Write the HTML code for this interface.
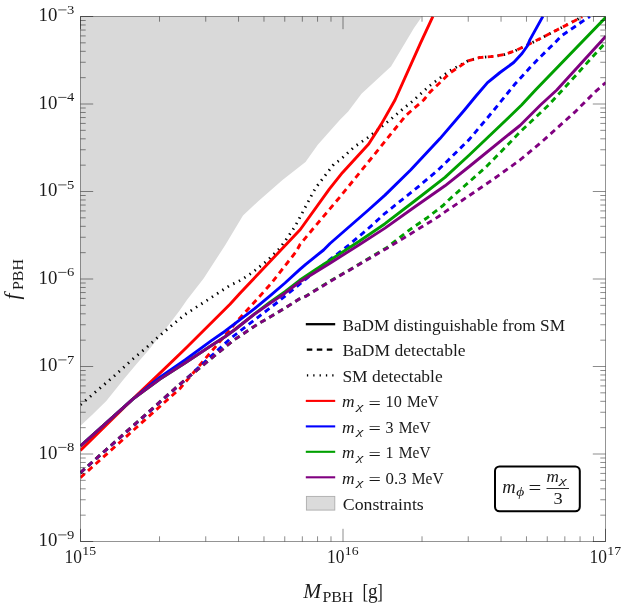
<!DOCTYPE html>
<html><head><meta charset="utf-8"><title>plot</title>
<style>
html,body{margin:0;padding:0;background:#fff;}
svg{display:block;will-change:transform;}
text{font-family:"Liberation Serif",serif;fill:#1a1a1a;}
.it{font-style:italic;}
</style></head><body>
<svg width="623" height="609" viewBox="0 0 623 609">
<rect x="0" y="0" width="623" height="609" fill="#ffffff"/>
<defs><clipPath id="cp"><rect x="80.5" y="16.5" width="525" height="525"/></clipPath></defs>
<path d="M80.5,16.5 L422.0,16.4 L414.0,28.0 L391.0,66.6 L361.5,93.7 L348.2,111.5 L340.0,119.7 L330.9,130.0 L317.8,144.8 L305.5,162.0 L282.5,180.0 L258.8,200.7 L243.0,215.5 L225.3,245.0 L203.6,278.5 L186.9,300.0 L179.3,311.0 L167.4,326.5 L154.6,342.5 L150.0,348.6 L136.3,364.3 L123.1,380.0 L106.3,401.0 L92.0,415.0 L80.5,425.8 Z" fill="#d9d9d9"/>
<g clip-path="url(#cp)" fill="none" stroke-linejoin="round">
<path d="M80.5,404.8 L113.6,376.5 L132.0,359.7 L146.5,347.6 L160.0,335.3 L185.0,314.5 L206.0,301.0 L230.0,285.3 L237.4,282.0 L242.3,279.2 L247.2,276.0 L252.2,272.7 L257.0,268.9 L262.0,264.8 L267.8,260.2 L272.7,255.3 L277.6,250.8 L284.3,242.2 L295.0,226.6 L315.3,188.3 L334.2,163.7 L340.0,160.0 L353.9,147.2 L368.7,137.0 L389.3,120.5 L402.5,109.3 L413.0,100.8 L430.0,85.5 L449.7,70.8 L467.8,60.9 L479.3,57.6 L495.0,56.2 L503.9,54.6 L515.0,50.8 L526.5,45.5 L555.0,31.0 L582.3,16.8" stroke="#000" stroke-width="2.8" stroke-dasharray="1.4,4.9"/>
<path d="M80.4,450.5 L132.5,399.3 L160.0,373.1 L185.0,349.0 L230.0,304.2 L240.0,293.3 L280.9,250.0 L300.3,229.5 L329.3,189.1 L342.4,172.7 L368.7,144.0 L381.0,124.6 L395.0,100.0 L420.6,42.8 L432.9,16.4" stroke="#ff0000" stroke-width="2.9"/>
<path d="M80.4,477.6 L180.0,388.5 L237.8,320.4 L257.5,298.7 L270.8,283.9 L296.6,251.0 L300.0,244.5 L312.0,230.0 L340.0,196.9 L372.8,156.5 L405.7,115.6 L423.7,100.0 L430.0,92.1 L449.7,73.2 L467.8,60.9 L479.3,57.6 L495.0,56.2 L503.9,54.6 L515.0,50.8 L526.5,45.5 L555.0,31.0 L582.3,16.8" stroke="#ff0000" stroke-width="2.9" stroke-dasharray="5.8,4.4"/>
<path d="M80.4,446.0 L132.5,399.3 L160.0,377.2 L185.0,360.0 L211.4,340.7 L225.0,331.2 L254.6,308.6 L270.0,295.8 L285.0,283.0 L299.6,269.6 L305.7,264.3 L323.6,250.0 L330.0,243.5 L368.4,210.0 L385.0,195.1 L410.6,170.0 L440.0,138.6 L464.5,110.0 L476.0,96.0 L487.5,82.6 L500.0,72.5 L513.7,62.5 L522.0,53.5 L527.3,46.0 L530.0,39.6 L542.9,16.4" stroke="#0000ff" stroke-width="2.9"/>
<path d="M80.4,472.8 L180.0,384.5 L230.9,338.1 L254.6,319.9 L278.2,301.7 L302.2,282.0 L330.0,259.5 L347.7,246.0 L370.4,226.7 L385.0,213.3 L416.5,188.2 L438.2,170.0 L469.3,139.4 L494.0,110.0 L515.0,84.0 L530.0,67.6 L538.0,59.2 L555.0,42.6 L561.0,36.2 L587.2,18.1 L590.0,16.4" stroke="#0000ff" stroke-width="2.9" stroke-dasharray="5.8,4.4"/>
<path d="M80.4,446.0 L132.5,399.3 L160.0,379.1 L185.0,363.0 L211.4,345.5 L225.0,336.7 L235.0,329.5 L254.6,313.8 L270.0,302.2 L285.0,291.6 L299.6,280.3 L315.0,270.0 L330.0,260.2 L359.6,241.0 L385.0,223.7 L414.6,201.0 L445.0,177.4 L469.3,155.0 L510.0,116.3 L521.6,105.0 L535.5,90.0 L605.8,17.3" stroke="#00a000" stroke-width="2.9"/>
<path d="M80.4,472.6 L180.0,384.0 L233.9,340.0 L257.5,324.3 L284.1,308.6 L299.6,298.8 L305.7,296.2 L322.1,286.0 L330.0,281.0 L352.7,268.0 L369.4,258.0 L387.1,247.4 L410.6,229.1 L426.4,218.3 L443.1,205.5 L448.7,200.0 L485.7,167.3 L510.0,142.5 L520.0,132.0 L548.7,105.0 L562.5,90.0 L605.8,42.3" stroke="#00a000" stroke-width="2.9" stroke-dasharray="5.8,4.4"/>
<path d="M80.4,446.0 L132.5,399.3 L160.0,379.1 L185.0,363.0 L211.4,345.5 L225.0,336.7 L235.0,329.5 L254.6,314.0 L270.0,303.2 L285.0,293.2 L299.6,282.0 L315.0,272.5 L330.0,263.2 L359.6,244.5 L385.0,228.1 L414.6,207.0 L445.0,185.8 L469.3,166.5 L510.0,133.5 L520.0,125.5 L540.5,105.0 L556.8,90.0 L605.8,36.2" stroke="#800080" stroke-width="2.9"/>
<path d="M80.4,472.6 L180.0,384.0 L233.9,340.0 L257.5,324.3 L284.1,308.6 L299.6,298.8 L305.7,296.4 L322.1,286.5 L330.0,281.5 L352.7,268.3 L369.4,258.5 L387.1,248.2 L421.5,227.1 L438.2,216.8 L445.0,211.9 L462.7,200.0 L493.9,178.8 L510.0,167.2 L520.0,160.0 L542.8,140.9 L575.7,111.3 L595.4,91.6 L605.8,82.5" stroke="#800080" stroke-width="2.9" stroke-dasharray="5.8,4.4"/>
</g>
<path d="M80.5,541.5 v-12.7 M80.5,16.5 v12.7 M343,541.5 v-12.7 M343,16.5 v12.7 M605.5,541.5 v-12.7 M605.5,16.5 v12.7 M80.5,16.5 h12.7 M605.5,16.5 h-12.7 M80.5,104 h12.7 M605.5,104 h-12.7 M80.5,191.5 h12.7 M605.5,191.5 h-12.7 M80.5,279 h12.7 M605.5,279 h-12.7 M80.5,366.5 h12.7 M605.5,366.5 h-12.7 M80.5,454 h12.7 M605.5,454 h-12.7 M80.5,541.5 h12.7 M605.5,541.5 h-12.7" stroke="#000" stroke-opacity="0.5" stroke-width="0.9" fill="none"/>
<path d="M159.52,541.5 v-5.2 M159.52,16.5 v5.2 M205.74,541.5 v-5.2 M205.74,16.5 v5.2 M238.54,541.5 v-5.2 M238.54,16.5 v5.2 M263.98,541.5 v-5.2 M263.98,16.5 v5.2 M284.76,541.5 v-5.2 M284.76,16.5 v5.2 M302.34,541.5 v-5.2 M302.34,16.5 v5.2 M317.56,541.5 v-5.2 M317.56,16.5 v5.2 M330.99,541.5 v-5.2 M330.99,16.5 v5.2 M422.02,541.5 v-5.2 M422.02,16.5 v5.2 M468.24,541.5 v-5.2 M468.24,16.5 v5.2 M501.04,541.5 v-5.2 M501.04,16.5 v5.2 M526.48,541.5 v-5.2 M526.48,16.5 v5.2 M547.26,541.5 v-5.2 M547.26,16.5 v5.2 M564.84,541.5 v-5.2 M564.84,16.5 v5.2 M580.06,541.5 v-5.2 M580.06,16.5 v5.2 M593.49,541.5 v-5.2 M593.49,16.5 v5.2 M80.5,77.66 h5.2 M605.5,77.66 h-5.2 M80.5,62.25 h5.2 M605.5,62.25 h-5.2 M80.5,51.32 h5.2 M605.5,51.32 h-5.2 M80.5,42.84 h5.2 M605.5,42.84 h-5.2 M80.5,35.91 h5.2 M605.5,35.91 h-5.2 M80.5,30.05 h5.2 M605.5,30.05 h-5.2 M80.5,24.98 h5.2 M605.5,24.98 h-5.2 M80.5,20.5 h5.2 M605.5,20.5 h-5.2 M80.5,165.16 h5.2 M605.5,165.16 h-5.2 M80.5,149.75 h5.2 M605.5,149.75 h-5.2 M80.5,138.82 h5.2 M605.5,138.82 h-5.2 M80.5,130.34 h5.2 M605.5,130.34 h-5.2 M80.5,123.41 h5.2 M605.5,123.41 h-5.2 M80.5,117.55 h5.2 M605.5,117.55 h-5.2 M80.5,112.48 h5.2 M605.5,112.48 h-5.2 M80.5,108 h5.2 M605.5,108 h-5.2 M80.5,252.66 h5.2 M605.5,252.66 h-5.2 M80.5,237.25 h5.2 M605.5,237.25 h-5.2 M80.5,226.32 h5.2 M605.5,226.32 h-5.2 M80.5,217.84 h5.2 M605.5,217.84 h-5.2 M80.5,210.91 h5.2 M605.5,210.91 h-5.2 M80.5,205.05 h5.2 M605.5,205.05 h-5.2 M80.5,199.98 h5.2 M605.5,199.98 h-5.2 M80.5,195.5 h5.2 M605.5,195.5 h-5.2 M80.5,340.16 h5.2 M605.5,340.16 h-5.2 M80.5,324.75 h5.2 M605.5,324.75 h-5.2 M80.5,313.82 h5.2 M605.5,313.82 h-5.2 M80.5,305.34 h5.2 M605.5,305.34 h-5.2 M80.5,298.41 h5.2 M605.5,298.41 h-5.2 M80.5,292.55 h5.2 M605.5,292.55 h-5.2 M80.5,287.48 h5.2 M605.5,287.48 h-5.2 M80.5,283 h5.2 M605.5,283 h-5.2 M80.5,427.66 h5.2 M605.5,427.66 h-5.2 M80.5,412.25 h5.2 M605.5,412.25 h-5.2 M80.5,401.32 h5.2 M605.5,401.32 h-5.2 M80.5,392.84 h5.2 M605.5,392.84 h-5.2 M80.5,385.91 h5.2 M605.5,385.91 h-5.2 M80.5,380.05 h5.2 M605.5,380.05 h-5.2 M80.5,374.98 h5.2 M605.5,374.98 h-5.2 M80.5,370.5 h5.2 M605.5,370.5 h-5.2 M80.5,515.16 h5.2 M605.5,515.16 h-5.2 M80.5,499.75 h5.2 M605.5,499.75 h-5.2 M80.5,488.82 h5.2 M605.5,488.82 h-5.2 M80.5,480.34 h5.2 M605.5,480.34 h-5.2 M80.5,473.41 h5.2 M605.5,473.41 h-5.2 M80.5,467.55 h5.2 M605.5,467.55 h-5.2 M80.5,462.48 h5.2 M605.5,462.48 h-5.2 M80.5,458 h5.2 M605.5,458 h-5.2" stroke="#000" stroke-opacity="0.5" stroke-width="0.9" fill="none"/>
<rect x="80.5" y="16.5" width="525" height="525" fill="none" stroke="#000" stroke-opacity="0.42" stroke-width="1"/>
<text x="38.6" y="21.2" font-size="18.6" textLength="18.8" lengthAdjust="spacingAndGlyphs">10</text>
<path d="M58.2,9.9 H66.5" stroke="#1a1a1a" stroke-width="0.75"/>
<text x="67" y="13.8" font-size="12.6" textLength="7.3" lengthAdjust="spacingAndGlyphs">3</text>
<text x="38.6" y="108.7" font-size="18.6" textLength="18.8" lengthAdjust="spacingAndGlyphs">10</text>
<path d="M58.2,97.4 H66.5" stroke="#1a1a1a" stroke-width="0.75"/>
<text x="67" y="101.3" font-size="12.6" textLength="7.3" lengthAdjust="spacingAndGlyphs">4</text>
<text x="38.6" y="196.2" font-size="18.6" textLength="18.8" lengthAdjust="spacingAndGlyphs">10</text>
<path d="M58.2,184.9 H66.5" stroke="#1a1a1a" stroke-width="0.75"/>
<text x="67" y="188.8" font-size="12.6" textLength="7.3" lengthAdjust="spacingAndGlyphs">5</text>
<text x="38.6" y="283.7" font-size="18.6" textLength="18.8" lengthAdjust="spacingAndGlyphs">10</text>
<path d="M58.2,272.4 H66.5" stroke="#1a1a1a" stroke-width="0.75"/>
<text x="67" y="276.3" font-size="12.6" textLength="7.3" lengthAdjust="spacingAndGlyphs">6</text>
<text x="38.6" y="371.2" font-size="18.6" textLength="18.8" lengthAdjust="spacingAndGlyphs">10</text>
<path d="M58.2,359.9 H66.5" stroke="#1a1a1a" stroke-width="0.75"/>
<text x="67" y="363.8" font-size="12.6" textLength="7.3" lengthAdjust="spacingAndGlyphs">7</text>
<text x="38.6" y="458.7" font-size="18.6" textLength="18.8" lengthAdjust="spacingAndGlyphs">10</text>
<path d="M58.2,447.4 H66.5" stroke="#1a1a1a" stroke-width="0.75"/>
<text x="67" y="451.3" font-size="12.6" textLength="7.3" lengthAdjust="spacingAndGlyphs">8</text>
<text x="38.6" y="546.2" font-size="18.6" textLength="18.8" lengthAdjust="spacingAndGlyphs">10</text>
<path d="M58.2,534.9 H66.5" stroke="#1a1a1a" stroke-width="0.75"/>
<text x="67" y="538.8" font-size="12.6" textLength="7.3" lengthAdjust="spacingAndGlyphs">9</text>
<text x="64.6" y="562.6" font-size="18.6" textLength="17.4" lengthAdjust="spacingAndGlyphs">10</text>
<text x="82.3" y="555.1" font-size="12.6" textLength="13.8" lengthAdjust="spacingAndGlyphs">15</text>
<text x="327.1" y="562.6" font-size="18.6" textLength="17.4" lengthAdjust="spacingAndGlyphs">10</text>
<text x="344.8" y="555.1" font-size="12.6" textLength="13.8" lengthAdjust="spacingAndGlyphs">16</text>
<text x="589.6" y="562.6" font-size="18.6" textLength="17.4" lengthAdjust="spacingAndGlyphs">10</text>
<text x="607.3" y="555.1" font-size="12.6" textLength="13.8" lengthAdjust="spacingAndGlyphs">17</text>
<text x="303.2" y="598.4" font-size="21.5" class="it">M</text>
<text x="322.4" y="601.7" font-size="14.2" textLength="31" lengthAdjust="spacingAndGlyphs">PBH</text>
<text x="362.6" y="598.4" font-size="21" textLength="5.6" lengthAdjust="spacingAndGlyphs">[</text>
<text x="368" y="598.4" font-size="21" textLength="9.6" lengthAdjust="spacingAndGlyphs">g</text>
<text x="377.2" y="598.4" font-size="21" textLength="5.6" lengthAdjust="spacingAndGlyphs">]</text>
<g transform="translate(19,299.6) rotate(-90)">
<text x="0" y="0" font-size="21.5" class="it">f</text>
<text x="9.6" y="3.7" font-size="14.2" textLength="31" lengthAdjust="spacingAndGlyphs">PBH</text>
</g>
<path d="M305.8,324.2 H335.2" stroke="#000" stroke-width="2.3"/>
<path d="M306.8,349.7 H335.2" stroke="#000" stroke-width="2.3" stroke-dasharray="5.5,4.5"/>
<path d="M306.9,375.40000000000003 H335.2" stroke="#000" stroke-width="2.3" stroke-dasharray="1.3,5.03"/>
<path d="M305.8,400.9 H335.2" stroke="#ff0000" stroke-width="2.1"/>
<path d="M305.8,426.4 H335.2" stroke="#0000ff" stroke-width="2.1"/>
<path d="M305.8,451.8 H335.2" stroke="#00a000" stroke-width="2.1"/>
<path d="M305.8,477.3 H335.2" stroke="#800080" stroke-width="2.1"/>
<rect x="306.4" y="496.4" width="28.4" height="13.7" fill="#dbdbdb" stroke="#adadad" stroke-width="0.9"/>
<text x="342.4" y="330.5" font-size="17" textLength="222.6" lengthAdjust="spacingAndGlyphs">BaDM distinguishable from SM</text>
<text x="342.4" y="356" font-size="17" textLength="123.2" lengthAdjust="spacingAndGlyphs">BaDM detectable</text>
<text x="342.4" y="381.6" font-size="17" textLength="100.3" lengthAdjust="spacingAndGlyphs">SM detectable</text>
<text x="342" y="407.2" font-size="17.6" textLength="12.6" lengthAdjust="spacingAndGlyphs" class="it">m</text>
<text x="356.6" y="409.8" font-size="11.2" textLength="6.8" lengthAdjust="spacingAndGlyphs" class="it">χ</text>
<text x="368.6" y="408.6" font-size="17.6" textLength="12.4" lengthAdjust="spacingAndGlyphs">=</text>
<text x="385.6" y="407.2" font-size="17" textLength="16.2" lengthAdjust="spacingAndGlyphs">10</text>
<text x="407" y="407.2" font-size="17" textLength="31.8" lengthAdjust="spacingAndGlyphs">MeV</text>
<text x="342" y="432.7" font-size="17.6" textLength="12.6" lengthAdjust="spacingAndGlyphs" class="it">m</text>
<text x="356.6" y="435.3" font-size="11.2" textLength="6.8" lengthAdjust="spacingAndGlyphs" class="it">χ</text>
<text x="368.6" y="434.1" font-size="17.6" textLength="12.4" lengthAdjust="spacingAndGlyphs">=</text>
<text x="385.6" y="432.7" font-size="17" textLength="8" lengthAdjust="spacingAndGlyphs">3</text>
<text x="398.8" y="432.7" font-size="17" textLength="31.8" lengthAdjust="spacingAndGlyphs">MeV</text>
<text x="342" y="458.1" font-size="17.6" textLength="12.6" lengthAdjust="spacingAndGlyphs" class="it">m</text>
<text x="356.6" y="460.7" font-size="11.2" textLength="6.8" lengthAdjust="spacingAndGlyphs" class="it">χ</text>
<text x="368.6" y="459.5" font-size="17.6" textLength="12.4" lengthAdjust="spacingAndGlyphs">=</text>
<text x="385.6" y="458.1" font-size="17" textLength="8" lengthAdjust="spacingAndGlyphs">1</text>
<text x="398.8" y="458.1" font-size="17" textLength="31.8" lengthAdjust="spacingAndGlyphs">MeV</text>
<text x="342" y="483.6" font-size="17.6" textLength="12.6" lengthAdjust="spacingAndGlyphs" class="it">m</text>
<text x="356.6" y="486.2" font-size="11.2" textLength="6.8" lengthAdjust="spacingAndGlyphs" class="it">χ</text>
<text x="368.6" y="485" font-size="17.6" textLength="12.4" lengthAdjust="spacingAndGlyphs">=</text>
<text x="385.6" y="483.6" font-size="17" textLength="21" lengthAdjust="spacingAndGlyphs">0.3</text>
<text x="411.8" y="483.6" font-size="17" textLength="31.8" lengthAdjust="spacingAndGlyphs">MeV</text>
<text x="342.8" y="509.5" font-size="17" textLength="81" lengthAdjust="spacingAndGlyphs">Constraints</text>
<rect x="495" y="466.4" width="84.8" height="44.9" rx="4.5" ry="4.5" fill="#fff" stroke="#000" stroke-width="2"/>
<text x="502.2" y="492.8" font-size="18.6" textLength="13.4" lengthAdjust="spacingAndGlyphs" class="it">m</text>
<text x="516.2" y="496.2" font-size="13" textLength="8" lengthAdjust="spacingAndGlyphs" class="it">ϕ</text>
<text x="528.6" y="494.4" font-size="18.6" textLength="12.8" lengthAdjust="spacingAndGlyphs">=</text>
<text x="546.6" y="481.8" font-size="17.4" textLength="12.4" lengthAdjust="spacingAndGlyphs" class="it">m</text>
<text x="559.6" y="484.2" font-size="11.2" textLength="7.2" lengthAdjust="spacingAndGlyphs" class="it">χ</text>
<path d="M546.5,488.5 H569" stroke="#1a1a1a" stroke-width="0.9"/>
<text x="553.6" y="504.2" font-size="17.4" textLength="9.2" lengthAdjust="spacingAndGlyphs">3</text>
</svg>
</body></html>
